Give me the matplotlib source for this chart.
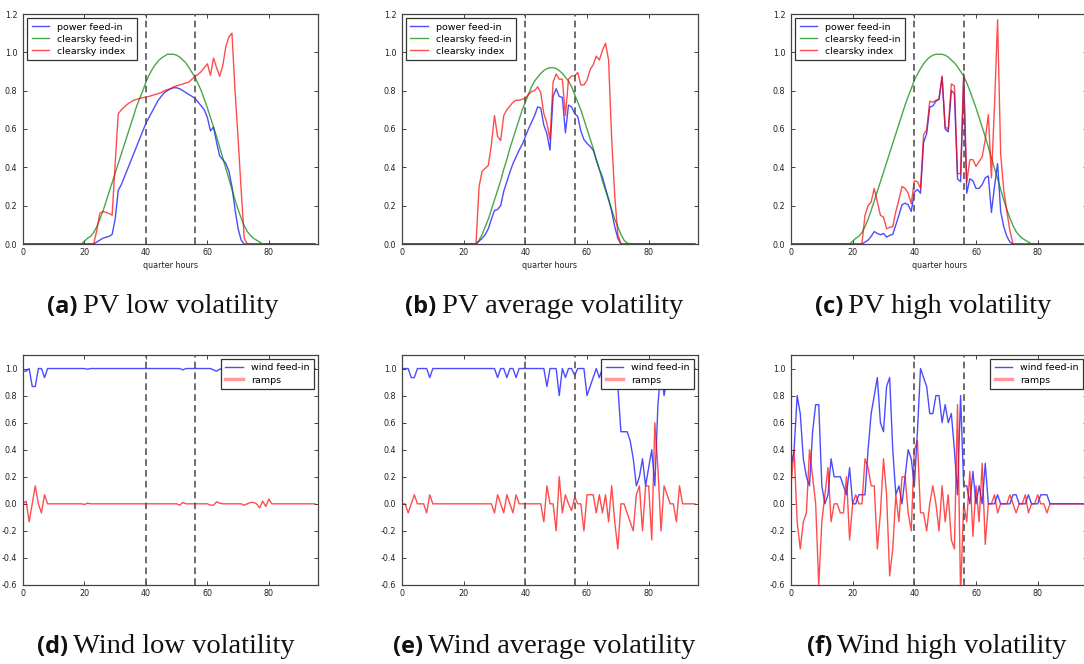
import numpy as np
import matplotlib
matplotlib.use('Agg')
import matplotlib.pyplot as plt
from matplotlib.lines import Line2D
from matplotlib.ticker import FormatStrFormatter

# ---------------- data ----------------
quarter_hours = np.arange(96)

pv_low_power = [0.0]*24 + [
    0.01, 0.02, 0.03, 0.035, 0.04, 0.05, 0.13, 0.28, 0.31, 0.35,
    0.39, 0.43, 0.47, 0.51, 0.55, 0.59, 0.63, 0.66, 0.69, 0.72,
    0.75, 0.77, 0.79, 0.80, 0.81, 0.815, 0.815, 0.81, 0.80, 0.79,
    0.78, 0.77, 0.76, 0.74, 0.72, 0.70, 0.66, 0.59, 0.61, 0.53,
    0.46, 0.44, 0.42, 0.38, 0.30, 0.18, 0.08, 0.02, 0.0] + [0.0]*23
pv_low_clearsky = [0.0]*19 + [
    0.0, 0.015, 0.03, 0.04, 0.06, 0.09, 0.13, 0.17, 0.22, 0.27,
    0.32, 0.37, 0.42, 0.47, 0.52, 0.57, 0.62, 0.67, 0.72, 0.76,
    0.80, 0.845, 0.88, 0.91, 0.935, 0.955, 0.97, 0.98, 0.99, 0.99,
    0.99, 0.985, 0.975, 0.96, 0.945, 0.92, 0.895, 0.87, 0.835, 0.80,
    0.755, 0.71, 0.66, 0.61, 0.56, 0.505, 0.45, 0.395, 0.34, 0.285,
    0.23, 0.18, 0.135, 0.095, 0.065, 0.045, 0.03, 0.02, 0.01, 0.0] + [0.0]*17
pv_low_index = [0.0]*24 + [
    0.07, 0.16, 0.17, 0.165, 0.16, 0.15, 0.42, 0.68, 0.70, 0.715,
    0.73, 0.74, 0.75, 0.755, 0.76, 0.763, 0.767, 0.77, 0.775, 0.78,
    0.785, 0.79, 0.80, 0.805, 0.81, 0.82, 0.825, 0.83, 0.835, 0.84,
    0.845, 0.86, 0.875, 0.885, 0.90, 0.92, 0.94, 0.88, 0.97, 0.92,
    0.875, 0.93, 1.03, 1.08, 1.10, 0.80, 0.55, 0.28, 0.03] + [0.0]*23

pv_avg_power = [0.0]*25 + [
    0.015, 0.03, 0.05, 0.08, 0.13, 0.175, 0.18, 0.20, 0.275, 0.325,
    0.375, 0.42, 0.455, 0.49, 0.52, 0.56, 0.60, 0.635, 0.67, 0.715,
    0.71, 0.62, 0.575, 0.49, 0.77, 0.81, 0.77, 0.765, 0.58, 0.725,
    0.715, 0.68, 0.665, 0.59, 0.545, 0.525, 0.51, 0.49, 0.44, 0.39,
    0.35, 0.29, 0.235, 0.17, 0.09, 0.03, 0.0] + [0.0]*24
pv_avg_clearsky = [0.0]*24 + [
    0.0, 0.02, 0.05, 0.09, 0.13, 0.18, 0.23, 0.28, 0.33, 0.39,
    0.44, 0.50, 0.55, 0.60, 0.65, 0.70, 0.74, 0.78, 0.82, 0.85,
    0.87, 0.89, 0.905, 0.915, 0.92, 0.92, 0.915, 0.905, 0.89, 0.87,
    0.85, 0.82, 0.78, 0.74, 0.70, 0.65, 0.60, 0.55, 0.50, 0.44,
    0.39, 0.33, 0.28, 0.23, 0.18, 0.13, 0.09, 0.05, 0.02, 0.005, 0.0] + [0.0]*21
pv_avg_index = [0.0]*25 + [
    0.30, 0.38, 0.395, 0.41, 0.52, 0.67, 0.56, 0.54, 0.67, 0.70,
    0.72, 0.74, 0.75, 0.75, 0.755, 0.76, 0.78, 0.795, 0.80, 0.82,
    0.79, 0.68, 0.63, 0.545, 0.845, 0.887, 0.86, 0.86, 0.67, 0.86,
    0.877, 0.877, 0.895, 0.83, 0.83, 0.855, 0.91, 0.935, 0.98, 0.96,
    1.01, 1.047, 0.96, 0.55, 0.25, 0.05, 0.0] + [0.0]*24

pv_high_power = [0.0]*24 + [
    0.01, 0.02, 0.04, 0.065, 0.055, 0.048, 0.055, 0.036, 0.045, 0.05,
    0.10, 0.15, 0.205, 0.213, 0.205, 0.17, 0.27, 0.285, 0.265, 0.53,
    0.575, 0.715, 0.72, 0.745, 0.755, 0.87, 0.60, 0.585, 0.80, 0.785,
    0.34, 0.325, 0.86, 0.265, 0.34, 0.33, 0.29, 0.29, 0.31, 0.345,
    0.355, 0.165, 0.30, 0.42, 0.17, 0.09, 0.04, 0.01, 0.0] + [0.0]*23
pv_high_clearsky = [0.0]*19 + [
    0.0, 0.015, 0.03, 0.04, 0.06, 0.09, 0.13, 0.175, 0.225, 0.275,
    0.325, 0.375, 0.425, 0.475, 0.525, 0.575, 0.625, 0.675, 0.725, 0.77,
    0.81, 0.855, 0.885, 0.915, 0.94, 0.96, 0.975, 0.985, 0.99, 0.99,
    0.99, 0.985, 0.975, 0.96, 0.945, 0.925, 0.90, 0.877, 0.84, 0.80,
    0.755, 0.71, 0.66, 0.61, 0.56, 0.505, 0.45, 0.395, 0.34, 0.285,
    0.23, 0.18, 0.135, 0.095, 0.065, 0.045, 0.03, 0.02, 0.01, 0.0] + [0.0]*17
pv_high_index = [0.0]*24 + [
    0.15, 0.20, 0.22, 0.29, 0.22, 0.15, 0.14, 0.08, 0.087, 0.09,
    0.17, 0.23, 0.30, 0.29, 0.265, 0.21, 0.33, 0.325, 0.29, 0.57,
    0.595, 0.745, 0.74, 0.75, 0.755, 0.877, 0.61, 0.60, 0.835, 0.825,
    0.37, 0.365, 0.89, 0.32, 0.44, 0.44, 0.405, 0.43, 0.455, 0.545,
    0.675, 0.345, 0.72, 1.17, 0.47, 0.28, 0.17, 0.07, 0.0] + [0.0]*23

wind_low_feed = [
    0.98, 0.98, 1.0, 0.867, 0.867, 1.0, 1.0, 0.933, 1.0, 1.0,
    1.0, 1.0, 1.0, 1.0, 1.0, 1.0, 1.0, 1.0, 1.0, 1.0,
    1.0, 0.995, 1.0, 1.0, 1.0, 1.0, 1.0, 1.0, 1.0, 1.0,
    1.0, 1.0, 1.0, 1.0, 1.0, 1.0, 1.0, 1.0, 1.0, 1.0,
    1.0, 1.0, 1.0, 1.0, 1.0, 1.0, 1.0, 1.0, 1.0, 1.0,
    1.0, 1.0, 0.99, 1.0, 1.0, 1.0, 1.0, 1.0, 1.0, 1.0,
    1.0, 1.0, 0.99, 0.98, 0.995, 1.0, 1.0, 1.0, 1.0, 1.0,
    1.0, 1.0, 1.0, 0.99, 0.99, 1.0, 1.0, 1.0, 0.97, 0.99,
    0.97, 1.0, 1.0, 1.0, 1.0, 1.0, 1.0, 1.0, 1.0, 1.0,
    1.0, 1.0, 1.0, 1.0, 1.0, 1.0]
wind_low_ramps = [
    0.0, 0.02, -0.133, 0.0, 0.133, 0.0, -0.067, 0.067, 0.0, 0.0,
    0.0, 0.0, 0.0, 0.0, 0.0, 0.0, 0.0, 0.0, 0.0, 0.0,
    -0.005, 0.005, 0.0, 0.0, 0.0, 0.0, 0.0, 0.0, 0.0, 0.0,
    0.0, 0.0, 0.0, 0.0, 0.0, 0.0, 0.0, 0.0, 0.0, 0.0,
    0.0, 0.0, 0.0, 0.0, 0.0, 0.0, 0.0, 0.0, 0.0, 0.0,
    0.0, -0.01, 0.01, 0.0, 0.0, 0.0, 0.0, 0.0, 0.0, 0.0,
    0.0, -0.01, -0.01, 0.015, 0.005, 0.0, 0.0, 0.0, 0.0, 0.0,
    0.0, 0.0, -0.01, 0.0, 0.01, 0.01, 0.0, -0.03, 0.02, -0.02,
    0.035, 0.0, 0.0, 0.0, 0.0, 0.0, 0.0, 0.0, 0.0, 0.0,
    0.0, 0.0, 0.0, 0.0, 0.0, 0.0]

wind_avg_feed = [
    1.0, 1.0, 1.0, 0.933, 0.933, 1.0, 1.0, 1.0, 1.0, 0.933,
    1.0, 1.0, 1.0, 1.0, 1.0, 1.0, 1.0, 1.0, 1.0, 1.0,
    1.0, 1.0, 1.0, 1.0, 1.0, 1.0, 1.0, 1.0, 1.0, 1.0,
    1.0, 0.933, 1.0, 1.0, 0.933, 1.0, 1.0, 0.933, 1.0, 1.0,
    1.0, 1.0, 1.0, 1.0, 1.0, 1.0, 1.0, 0.867, 1.0, 1.0,
    1.0, 0.8, 1.0, 0.933, 1.0, 1.0, 0.95, 1.0, 1.0, 1.0,
    0.8, 0.867, 0.933, 1.0, 0.933, 1.0, 0.933, 1.0, 0.867, 1.0,
    0.867, 0.533, 0.533, 0.533, 0.467, 0.333, 0.133, 0.2, 0.333, 0.133,
    0.267, 0.4, 0.133, 0.733, 1.0, 0.8, 0.933, 1.0, 1.0, 1.0,
    0.867, 1.0, 1.0, 1.0, 1.0, 1.0]
wind_avg_ramps = [
    0.0, 0.0, -0.067, 0.0, 0.067, 0.0, 0.0, 0.0, -0.067, 0.067,
    0.0, 0.0, 0.0, 0.0, 0.0, 0.0, 0.0, 0.0, 0.0, 0.0,
    0.0, 0.0, 0.0, 0.0, 0.0, 0.0, 0.0, 0.0, 0.0, 0.0,
    -0.067, 0.067, 0.0, -0.067, 0.067, 0.0, -0.067, 0.067, 0.0, 0.0,
    0.0, 0.0, 0.0, 0.0, 0.0, 0.0, -0.133, 0.133, 0.0, 0.0,
    -0.2, 0.2, -0.067, 0.067, 0.0, -0.05, 0.05, 0.0, 0.0, -0.2,
    0.067, 0.067, 0.067, -0.067, 0.067, -0.067, 0.067, -0.133, 0.133, -0.133,
    -0.333, 0.0, 0.0, -0.067, -0.133, -0.2, 0.067, 0.133, -0.2, 0.133,
    0.133, -0.267, 0.6, 0.267, -0.2, 0.133, 0.067, 0.0, 0.0, -0.133,
    0.133, 0.0, 0.0, 0.0, 0.0, 0.0]

wind_high_feed = [
    0.267, 0.4, 0.8, 0.667, 0.333, 0.2, 0.133, 0.533, 0.733, 0.733,
    0.133, 0.0, 0.067, 0.333, 0.2, 0.2, 0.2, 0.133, 0.067, 0.267,
    0.0, 0.0, 0.067, 0.067, 0.067, 0.4, 0.667, 0.8, 0.933, 0.6,
    0.533, 0.867, 0.933, 0.4, 0.067, 0.133, 0.0, 0.2, 0.4, 0.333,
    0.133, 0.533, 1.0, 0.933, 0.867, 0.667, 0.667, 0.8, 0.8, 0.6,
    0.733, 0.6, 0.667, 0.4, 0.067, 0.8, 0.133, 0.133, 0.0, 0.24,
    0.0, 0.133, 0.0, 0.3, 0.0, 0.0, 0.0, 0.067, 0.0, 0.0,
    0.0, 0.0, 0.067, 0.067, 0.0, 0.0, 0.0, 0.067, 0.0, 0.0,
    0.0, 0.067, 0.067, 0.067, 0.0, 0.0, 0.0, 0.0, 0.0, 0.0,
    0.0, 0.0, 0.0, 0.0, 0.0, 0.0]
wind_high_ramps = [
    0.133, 0.4, -0.133, -0.333, -0.133, -0.067, 0.4, 0.2, 0.0, -0.6,
    -0.133, 0.067, 0.267, -0.133, 0.0, 0.0, -0.067, -0.067, 0.2, -0.267,
    0.0, 0.067, 0.0, 0.0, 0.333, 0.267, 0.133, 0.133, -0.333, -0.067,
    0.333, 0.067, -0.533, -0.333, 0.067, -0.133, 0.2, 0.2, -0.067, -0.2,
    0.4, 0.467, -0.067, -0.067, -0.2, 0.0, 0.133, 0.0, -0.2, 0.133,
    -0.133, 0.067, -0.267, -0.333, 0.733, -0.667, 0.0, -0.133, 0.24, -0.24,
    0.133, -0.133, 0.3, -0.3, 0.0, 0.0, 0.067, -0.067, 0.0, 0.0,
    0.0, 0.067, 0.0, -0.067, 0.0, 0.0, 0.067, -0.067, 0.0, 0.0,
    0.067, 0.0, 0.0, -0.067, 0.0, 0.0, 0.0, 0.0, 0.0, 0.0,
    0.0, 0.0, 0.0, 0.0, 0.0, 0.0]

pv_yticks = [0.0, 0.2, 0.4, 0.6, 0.8, 1.0, 1.2]
wind_yticks = [-0.6, -0.4, -0.2, 0.0, 0.2, 0.4, 0.6, 0.8, 1.0]
x_ticks = [0, 20, 40, 60, 80]
marker_lines = [40, 56]

captions = [
    ("(a)", "PV low volatility"),
    ("(b)", "PV average volatility"),
    ("(c)", "PV high volatility"),
    ("(d)", "Wind low volatility"),
    ("(e)", "Wind average volatility"),
    ("(f)", "Wind high volatility"),
]

# ---------------- figure ----------------
W, H = 1084, 664
fig = plt.figure(figsize=(W / 100, H / 100), dpi=100)
fig.patch.set_facecolor('white')

def ax_at(left, top, width, height):
    return fig.add_axes([left / W, 1 - (top + height) / H, width / W, height / H])

lefts = [23, 402, 791]
widths = [295, 296, 296]
tops = [14, 355]
AH = 230

BLUE = (0.0, 0.0, 1.0)
GREEN = (0.0, 0.5, 0.0)
RED = (1.0, 0.0, 0.0)
ALPHA = 0.7
TICK_FS = 5.8
LEG_FS = 6.8

def style(ax, ylim, yticks):
    ax.set_xlim(0, 96)
    ax.set_ylim(*ylim)
    ax.set_xticks(x_ticks)
    ax.set_yticks(yticks)
    ax.yaxis.set_major_formatter(FormatStrFormatter('%.1f'))
    ax.tick_params(direction='in', top=True, right=True, length=3, width=0.6,
                   labelsize=TICK_FS, colors='#222222')
    ax.tick_params(axis='y', pad=4)
    ax.tick_params(axis='x', pad=3)
    for s in ax.spines.values():
        s.set_color('#444444')
        s.set_linewidth(0.9)
    for xv in marker_lines:
        ax.axvline(xv, color='#555555', ls=(0, (4, 2.5)), lw=1.2, zorder=3)

def add_legend(ax, handles, labels, loc):
    leg = ax.legend(handles, labels, loc=loc, fontsize=LEG_FS, frameon=True,
                    fancybox=False, framealpha=1, edgecolor='#333333',
                    borderaxespad=0.45, handlelength=1.9, handletextpad=0.8,
                    borderpad=0.45, labelspacing=0.32)
    leg.get_frame().set_linewidth(0.9)

pv_sets = [
    (pv_low_power, pv_low_clearsky, pv_low_index),
    (pv_avg_power, pv_avg_clearsky, pv_avg_index),
    (pv_high_power, pv_high_clearsky, pv_high_index),
]
wind_sets = [
    (wind_low_feed, wind_low_ramps),
    (wind_avg_feed, wind_avg_ramps),
    (wind_high_feed, wind_high_ramps),
]

for i, (pw, cs, ci) in enumerate(pv_sets):
    ax = ax_at(lefts[i], tops[0], widths[i], AH)
    l1, = ax.plot(quarter_hours, pw, color=BLUE, alpha=ALPHA, lw=1.0)
    l2, = ax.plot(quarter_hours, cs, color=GREEN, alpha=ALPHA, lw=1.0)
    l3, = ax.plot(quarter_hours, ci, color=RED, alpha=ALPHA, lw=1.0)
    style(ax, (0, 1.2), pv_yticks)
    ax.set_xlabel('quarter hours', fontsize=TICK_FS, labelpad=2.5, color='#222222')
    add_legend(ax, [l1, l2, l3],
               ['power feed-in', 'clearsky feed-in', 'clearsky index'], 'upper left')

for i, (wf, rp) in enumerate(wind_sets):
    ax = ax_at(lefts[i], tops[1], widths[i], AH)
    ax.plot(quarter_hours, wf, color=BLUE, alpha=ALPHA, lw=1.0)
    ax.plot(quarter_hours, rp, color=RED, alpha=ALPHA, lw=1.0)
    style(ax, (-0.6, 1.1), wind_yticks)
    handles = [Line2D([], [], color=BLUE, alpha=ALPHA, lw=1.0),
               Line2D([], [], color=RED, alpha=0.4, lw=2.5)]
    add_legend(ax, handles, ['wind feed-in', 'ramps'], 'upper right')

# ---------------- captions ----------------
renderer = fig.canvas.get_renderer()
cap_centers = [[163, 544, 933], [166, 544, 937]]
cap_baselines = [313, 653]

for k, (tag, body) in enumerate(captions):
    row, col = divmod(k, 3)
    cx = cap_centers[row][col]
    by = cap_baselines[row]
    t1 = fig.text(0, 0, tag, fontfamily='Open Sans', fontweight='bold',
                  fontsize=17, va='baseline', ha='left', color='#111111')
    t2 = fig.text(0, 0, body, fontfamily='Liberation Serif', fontsize=20.5,
                  va='baseline', ha='left', color='#111111')
    w1 = t1.get_window_extent(renderer).width
    w2 = t2.get_window_extent(renderer).width
    gap = 5
    x0 = cx - (w1 + gap + w2) / 2
    t1.set_position((x0 / W, 1 - by / H))
    t2.set_position(((x0 + w1 + gap) / W, 1 - by / H))

fig.savefig('out.png', dpi=100, facecolor='white')
